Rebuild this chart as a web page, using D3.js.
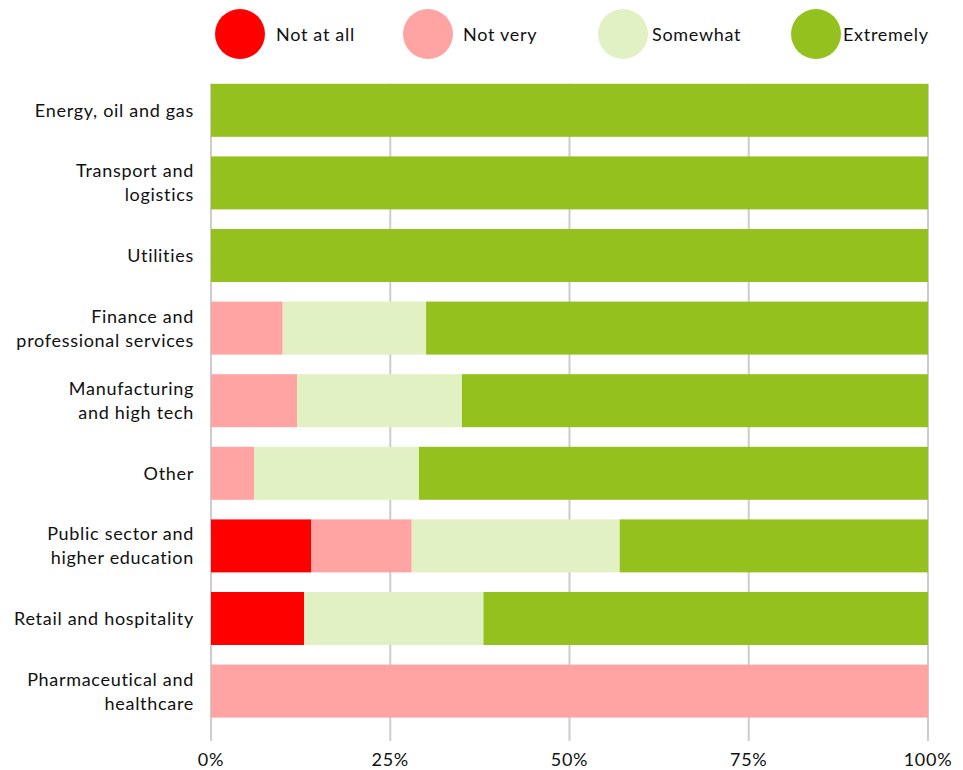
<!DOCTYPE html>
<html>
<head>
<meta charset="utf-8">
<script src="https://cdn.jsdelivr.net/npm/d3@7"></script>
<style>
  html, body { margin: 0; padding: 0; background: #fff; }
  svg { display: block; }
  text { font-family: "Lato", "Noto Sans", sans-serif; fill: #111; letter-spacing: 0.7px; }
</style>
</head>
<body>
<svg id="chart" width="963" height="770"></svg>
<script>
// Industry categories (each label split into its display lines)
const categories = [
  ["Energy, oil and gas"],
  ["Transport and", "logistics"],
  ["Utilities"],
  ["Finance and", "professional services"],
  ["Manufacturing", "and high tech"],
  ["Other"],
  ["Public sector and", "higher education"],
  ["Retail and hospitality"],
  ["Pharmaceutical and", "healthcare"]
];

// Response levels, in stacking order
const seriesNames = ["Not at all", "Not very", "Somewhat", "Extremely"];
const seriesColors = ["#ff0000", "#ffa3a3", "#e1f1c4", "#95c11f"];

// Share of respondents (%) per category for each level
const notAtAll  = [0, 0, 0, 0, 0, 0, 14, 13, 0];
const notVery   = [0, 0, 0, 10, 12, 6, 14, 0, 100];
const somewhat  = [0, 0, 0, 20, 23, 23, 29, 25, 0];
const extremely = [100, 100, 100, 70, 65, 71, 43, 62, 0];

const tickValues = [0, 25, 50, 75, 100];
const tickLabels = ["0%", "25%", "50%", "75%", "100%"];

const svg = d3.select("#chart");
const margin = { left: 211, right: 35, top: 74 };
const W = 963;
const fontSize = 18;

const keys = categories.map(c => c.join(" "));
const rows = keys.map((k, i) => ({
  key: k,
  "Not at all": notAtAll[i],
  "Not very": notVery[i],
  "Somewhat": somewhat[i],
  "Extremely": extremely[i]
}));

const x = d3.scaleLinear().domain([0, 100]).range([margin.left, W - margin.right]);
const y = d3.scaleBand().domain(keys)
  .range([margin.top, margin.top + 653.4])
  .paddingInner(0.27).paddingOuter(0.135);

// Vertical gridlines
svg.append("g")
  .selectAll("line")
  .data(tickValues)
  .join("line")
  .attr("x1", d => x(d)).attr("x2", d => x(d))
  .attr("y1", y(keys[0])).attr("y2", 741)
  .attr("stroke", "#cccccc")
  .attr("stroke-width", 2);

// Stacked bars
const stack = d3.stack().keys(seriesNames)(rows);
const color = d3.scaleOrdinal().domain(seriesNames).range(seriesColors);

svg.append("g")
  .selectAll("g")
  .data(stack)
  .join("g")
  .attr("fill", d => color(d.key))
  .selectAll("rect")
  .data(d => d.filter(s => s[1] - s[0] > 0))
  .join("rect")
  .attr("x", d => x(d[0]))
  .attr("width", d => x(d[1]) - x(d[0]))
  .attr("y", d => y(d.data.key))
  .attr("height", y.bandwidth());

// Category labels, vertically centred on their bar
const lineH = 24;
const capShift = 6.5;
const labelX = margin.left - 17;
const labels = svg.append("g")
  .selectAll("text")
  .data(categories)
  .join("text")
  .attr("text-anchor", "end")
  .attr("font-size", fontSize)
  .attr("x", labelX)
  .attr("y", (d, i) => y(keys[i]) + y.bandwidth() / 2 + capShift - (d.length - 1) * lineH / 2);
labels.selectAll("tspan")
  .data(d => d)
  .join("tspan")
  .attr("x", labelX)
  .attr("dy", (d, i) => i === 0 ? 0 : lineH)
  .text(d => d);

// X axis tick labels
svg.append("g")
  .selectAll("text")
  .data(tickValues)
  .join("text")
  .attr("x", d => x(d))
  .attr("y", 766)
  .attr("text-anchor", "middle")
  .attr("font-size", fontSize)
  .text((d, i) => tickLabels[i]);

// Legend
const legendDotX = [240, 428, 623, 816];
const legendTextX = [276, 463, 652, 843];
const legend = svg.append("g")
  .selectAll("g")
  .data(seriesNames)
  .join("g");
legend.append("circle")
  .attr("cx", (d, i) => legendDotX[i])
  .attr("cy", 34)
  .attr("r", 25)
  .attr("fill", d => color(d));
legend.append("text")
  .attr("x", (d, i) => legendTextX[i])
  .attr("y", 34 + capShift)
  .attr("font-size", fontSize)
  .text(d => d);
</script>
</body>
</html>
